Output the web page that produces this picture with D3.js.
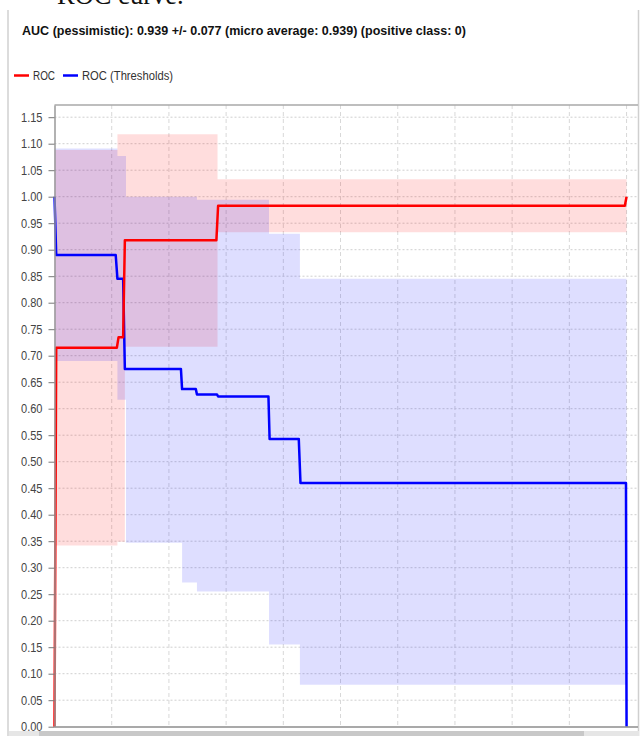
<!DOCTYPE html>
<html>
<head>
<meta charset="utf-8">
<script src="https://cdn.jsdelivr.net/npm/d3@7"></script>
<style>
  body { margin: 0; background: #fff; }
  svg { display: block; font-family: "Liberation Sans", Arial, sans-serif; }
</style>
</head>
<body>
<div id="chart"></div>
<script>
// ROC curve (mean) as points
const rocX = [0, 0.003, 0.109, 0.112, 0.120, 0.123, 0.283, 0.286, 0.997, 1.0];
const rocY = [0, 0.715, 0.715, 0.735, 0.735, 0.918, 0.918, 0.983, 0.983, 1.0];

// ROC (Thresholds) as points
const thrX = [0, 0.003, 0.107, 0.110, 0.120, 0.123, 0.221, 0.223, 0.247, 0.249, 0.284, 0.286, 0.374, 0.376, 0.427, 0.430, 0.999, 1.0];
const thrY = [1.0, 0.89, 0.89, 0.845, 0.845, 0.675, 0.675, 0.637, 0.637, 0.627, 0.627, 0.623, 0.623, 0.543, 0.543, 0.46, 0.46, 0.0];

// +/- std bands, one step per segment
const rocBandX0 = [0, 0.110, 0.123, 0.285];
const rocBandX1 = [0.110, 0.123, 0.285, 1.0];
const rocBandLo = [0.342, 0.349, 0.717, 0.933];
const rocBandHi = [1.088, 1.118, 1.118, 1.033];

const thrBandX0 = [0, 0.110, 0.125, 0.223, 0.249, 0.375, 0.429];
const thrBandX1 = [0.110, 0.125, 0.223, 0.249, 0.375, 0.429, 1.0];
const thrBandLo = [0.69, 0.617, 0.347, 0.272, 0.255, 0.155, 0.079];
const thrBandHi = [1.091, 1.077, 1.0, 1.0, 0.994, 0.93, 0.845];

const yTicks = d3.range(0, 24).map(i => i * 0.05);
const xGrid = d3.range(1, 11).map(i => i * 0.1);

const W = 641, H = 736;
const svg = d3.select("#chart").append("svg")
  .attr("width", W).attr("height", H);

// cut-off caption above the panel
svg.append("text")
  .attr("x", 57).attr("y", 4)
  .attr("font-family", "Liberation Serif, Times New Roman, serif")
  .attr("font-size", 26.5)
  .attr("fill", "#111")
  .text("ROC curve.");

// panel borders
svg.append("line").attr("x1", 8).attr("x2", 8).attr("y1", 10).attr("y2", H)
  .attr("stroke", "#dcdcdc").attr("stroke-width", 2);
svg.append("line").attr("x1", 638.5).attr("x2", 638.5).attr("y1", 10).attr("y2", H)
  .attr("stroke", "#cfcfcf").attr("stroke-width", 1.5);

// title
svg.append("text")
  .attr("x", 22).attr("y", 35)
  .attr("font-size", 13.5).attr("font-weight", "bold").attr("fill", "#111")
  .attr("textLength", 444).attr("lengthAdjust", "spacingAndGlyphs")
  .text("AUC (pessimistic): 0.939 +/- 0.077 (micro average: 0.939) (positive class: 0)");

// legend
const legend = [{name: "ROC", color: "#ff0000", x: 14, len: 22}, {name: "ROC (Thresholds)", color: "#0000ff", x: 63, len: 91}];
legend.forEach(l => {
  svg.append("line").attr("x1", l.x).attr("x2", l.x + 15).attr("y1", 75.5).attr("y2", 75.5)
    .attr("stroke", l.color).attr("stroke-width", 2.5);
  svg.append("text").attr("x", l.x + 19).attr("y", 80)
    .attr("font-size", 12).attr("fill", "#333")
    .attr("textLength", l.len).attr("lengthAdjust", "spacingAndGlyphs")
    .text(l.name);
});

// scales
const x = d3.scaleLinear().domain([0, 1.02]).range([54.5, 638]);
const y = d3.scaleLinear().domain([0, 1.173]).range([726.7, 105]);

const plot = svg.append("g");

// grid
plot.selectAll(".hgrid").data(yTicks.filter(d => d > 0)).join("line")
  .attr("x1", x(0)).attr("x2", 638)
  .attr("y1", d => y(d)).attr("y2", d => y(d))
  .attr("stroke", "#cfcfcf").attr("stroke-dasharray", "2,2");
plot.selectAll(".vgrid").data(xGrid).join("line")
  .attr("x1", d => x(d)).attr("x2", d => x(d))
  .attr("y1", y.range()[1]).attr("y2", y.range()[0])
  .attr("stroke", "#d8d8d8").attr("stroke-dasharray", "4,3");

// bands
function bandPts(x0, x1, lo, hi) {
  const pts = [];
  x0.forEach((v, i) => {
    pts.push({x: v, lo: lo[i], hi: hi[i]});
    pts.push({x: x1[i], lo: lo[i], hi: hi[i]});
  });
  return pts;
}
const area = d3.area().x(d => x(d.x)).y0(d => y(d.lo)).y1(d => y(d.hi));
plot.append("path").datum(bandPts(rocBandX0, rocBandX1, rocBandLo, rocBandHi))
  .attr("d", area).attr("fill", "#ff0000").attr("fill-opacity", 0.135);
plot.append("path").datum(bandPts(thrBandX0, thrBandX1, thrBandLo, thrBandHi))
  .attr("d", area).attr("fill", "#0000ff").attr("fill-opacity", 0.13);

// curves
const line = d3.line().x(d => x(d[0])).y(d => y(d[1]));
plot.append("path").datum(thrX.map((v, i) => [v, thrY[i]]))
  .attr("d", line).attr("fill", "none").attr("stroke", "#0000ff").attr("stroke-width", 2.5)
  .attr("stroke-linejoin", "round");
plot.append("path").datum(rocX.map((v, i) => [v, rocY[i]]))
  .attr("d", line).attr("fill", "none").attr("stroke", "#ff0000").attr("stroke-width", 2.5)
  .attr("stroke-linejoin", "round");

// plot frame
svg.append("line").attr("x1", x(0)).attr("x2", 638).attr("y1", 105).attr("y2", 105)
  .attr("stroke", "#a8a8a8").attr("stroke-width", 1.5);
svg.append("line").attr("x1", x(0)).attr("x2", 638).attr("y1", 727).attr("y2", 727)
  .attr("stroke", "#8c8c8c").attr("stroke-width", 1.5);

// y axis
const yAxis = svg.append("g")
  .attr("transform", `translate(${x(0)},0)`)
  .call(d3.axisLeft(y).tickValues(yTicks).tickFormat(d3.format(".2f")).tickSize(6).tickPadding(6).tickSizeOuter(0));
yAxis.select(".domain").attr("stroke", "#999").attr("stroke-width", 1.5);
yAxis.selectAll(".tick line").attr("stroke", "#777");
yAxis.selectAll(".tick text")
  .attr("font-size", 13).attr("fill", "#444")
  .attr("font-family", "Liberation Sans, Arial, sans-serif")
  .attr("textLength", 21.5).attr("lengthAdjust", "spacingAndGlyphs");

// bottom scrollbar strip
svg.append("rect").attr("x", 9).attr("y", 731).attr("width", 630).attr("height", 5).attr("fill", "#e6e6e6");
svg.append("rect").attr("x", 39).attr("y", 731).attr("width", 545).attr("height", 5).attr("fill", "#c8c8c8");
</script>
</body>
</html>
